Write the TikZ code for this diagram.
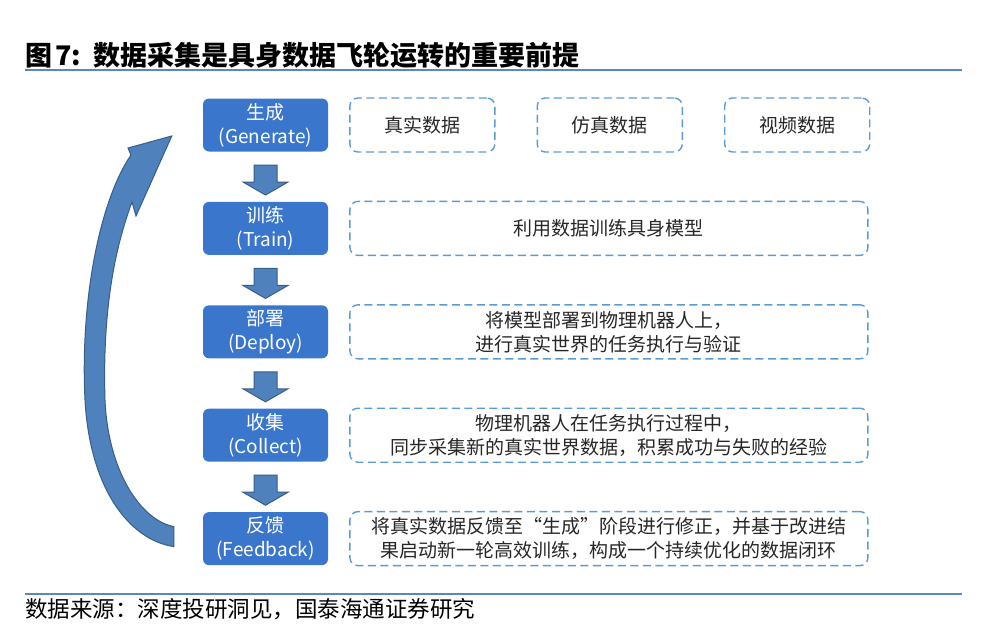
\documentclass[tikz,border=0pt]{standalone}
\usepackage{fontspec}
\setmainfont{Noto Sans CJK SC}
\usepackage{xcolor}
\usetikzlibrary{positioning,shapes.arrows,calc}

\definecolor{stageblue}{RGB}{58,118,204}
\definecolor{flowfill}{RGB}{79,129,189}
\definecolor{flowedge}{RGB}{56,93,138}
\definecolor{noteline}{RGB}{91,155,213}
\definecolor{ruleblue}{RGB}{88,138,185}

\begin{document}
\begin{tikzpicture}[x=1pt, y=-1pt,
  stage/.style={fill=stageblue, rounded corners=6pt, minimum width=125pt, minimum height=53pt,
    inner sep=0pt, text=white, align=center, font=\fontsize{19}{24}\selectfont},
  note/.style={draw=noteline, line width=1.4pt, dash pattern=on 8pt off 4.5pt, rounded corners=8pt,
    minimum height=54pt, inner sep=0pt, align=center, text=black!85, font=\fontsize{19}{24}\selectfont},
  down/.style={single arrow, rotate=-90, fill=flowfill, draw=flowedge, line width=1pt,
    inner xsep=0pt, inner ysep=11pt, minimum height=30pt,
    single arrow head extend=11pt, single arrow tip angle=120},
  rule/.style={draw=ruleblue, line width=2.5pt}
]
\useasboundingbox (0,0) rectangle (988,634);

% heading and source line
\node[anchor=west, inner sep=0pt, font=\fontsize{27}{27}\selectfont\bfseries] (title) at (25,55)
  {图\hspace{3pt}7:\hspace{12pt}数据采集是具身数据飞轮运转的重要前提};
\draw[rule] (25,70) -- (962,70);
\draw[rule] (25,594) -- (962,594);
\node[anchor=west, inner sep=0pt, font=\fontsize{22.5}{22.5}\selectfont] (source) at (25,609)
  {数据来源：深度投研洞见，国泰海通证券研究};

% stages
\node[stage] (gen) at (265.5,125) {生成\\(Generate)};
\node[stage, below=50pt of gen] (train) {训练\\(Train)};
\node[stage, below=50pt of train] (deploy) {部署\\(Deploy)};
\node[stage, below=50pt of deploy] (collect) {收集\\(Collect)};
\node[stage, below=50pt of collect] (fb) {反馈\\(Feedback)};

% notes beside each stage
\node[note, minimum width=145pt, right=21pt of gen] (realdata) {真实数据};
\node[note, minimum width=145pt, right=41pt of realdata] (simdata) {仿真数据};
\node[note, minimum width=145pt, right=41pt of simdata] (videodata) {视频数据};
\node[note, minimum width=518pt, right=21pt of train] (trainnote) {利用数据训练具身模型};
\node[note, minimum width=518pt, right=21pt of deploy] (deploynote)
  {将模型部署到物理机器人上，\\进行真实世界的任务执行与验证};
\node[note, minimum width=518pt, right=21pt of collect] (collectnote)
  {物理机器人在任务执行过程中，\\同步采集新的真实世界数据，积累成功与失败的经验};
\node[note, minimum width=518pt, right=21pt of fb] (fbnote)
  {将真实数据反馈至“生成”阶段进行修正，并基于改进结\\果启动新一轮高效训练，构成一个持续优化的数据闭环};

% block arrows between stages
\foreach \a/\b in {gen/train, train/deploy, deploy/collect, collect/fb}
  \node[down] (\a-\b) at ($(\a.south)!0.5!(\b.north)$) {};

% feedback loop back up to generation
\coordinate (loopfoot) at ($(fb.west)+(-29,-2)$);
\coordinate (loophead) at ($(gen.west)+(-31,11)$);
\filldraw[fill=flowfill, draw=flowedge, line width=1pt, line join=miter]
  ($(loopfoot)+(0,10)$) .. controls (130,540) and (90,490) .. (85,400)
  .. controls (80,300) and (100,200) .. (131,155)
  -- (128,148) -- (loophead) -- (136,216) -- (132,202)
  .. controls (118,240) and (102,300) .. (105,400)
  .. controls (108,470) and (140,520) .. ($(loopfoot)+(0,-10)$) -- cycle;
\end{tikzpicture}
\end{document}
